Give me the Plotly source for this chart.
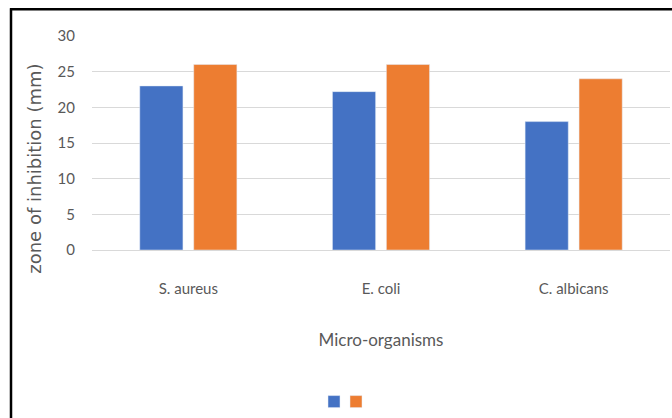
import plotly.graph_objects as go

categories = ["S. aureus", "E. coli", "C. albicans"]
series_1 = [23, 22.2, 18]
series_2 = [26, 26, 24]
y_ticks = [0, 5, 10, 15, 20, 25, 30]

W, H = 672, 418
ml, mr, mt, mb = 92, 2, 36, 166
pw, ph = W - ml - mr, H - mt - mb

def px_x(x):
    return (x - ml) / pw

def px_y(y):
    return (H - mb - y) / ph

fig = go.Figure()
fig.add_trace(go.Bar(x=categories, y=series_1, name=" ", marker_color="#4472C4",
                     legend="legend"))
fig.add_trace(go.Bar(x=categories, y=series_2, name=" ", marker_color="#ED7D31",
                     legend="legend2"))

font_fam = "Lato, 'Open Sans', sans-serif"
grey = "#595959"

leg_common = dict(orientation="h", xanchor="left", yanchor="middle",
                  bgcolor="rgba(0,0,0,0)", font=dict(size=12), itemwidth=30)

fig.update_layout(
    width=W, height=H,
    margin=dict(l=ml, r=mr, t=mt, b=mb, pad=0),
    paper_bgcolor="white", plot_bgcolor="white",
    barmode="group", bargap=0.44, bargroupgap=0.2,
    font=dict(family=font_fam, size=14, color=grey),
    showlegend=True,
    legend=dict(x=px_x(314), y=px_y(405), **leg_common),
    legend2=dict(x=px_x(336), y=px_y(405), **leg_common),
    xaxis=dict(showgrid=False, showline=False, ticks="", ticklabelstandoff=28,
               tickfont=dict(size=15, color=grey),
               title=dict(text="Micro-organisms", standoff=38, font=dict(size=17, color=grey))),
    yaxis=dict(range=[0, 30], tickvals=y_ticks, showgrid=True, gridcolor="#D9D9D9",
               gridwidth=1, zeroline=True, zerolinecolor="#D9D9D9", zerolinewidth=1,
               showline=False, ticks="", ticklabelstandoff=16,
               tickfont=dict(size=15, color=grey)),
    annotations=[dict(text="zone of inhibition (mm)", textangle=-90, showarrow=False,
                      xref="paper", yref="paper", x=px_x(35), y=px_y(170),
                      xanchor="center", yanchor="middle",
                      font=dict(size=18, color=grey, family="'DejaVu Sans', sans-serif"))],
    shapes=[
        dict(type="line", xref="paper", yref="paper", x0=px_x(11), x1=px_x(11),
             y0=px_y(8), y1=px_y(H + 5), line=dict(color="black", width=2.5)),
        dict(type="line", xref="paper", yref="paper", x0=px_x(10), x1=px_x(W + 5),
             y0=px_y(9), y1=px_y(9), line=dict(color="black", width=2.5)),
    ],
)

fig.write_html("out.html", config={"displayModeBar": False},
               post_script="document.body.style.margin='0';document.body.style.overflow='hidden';")
